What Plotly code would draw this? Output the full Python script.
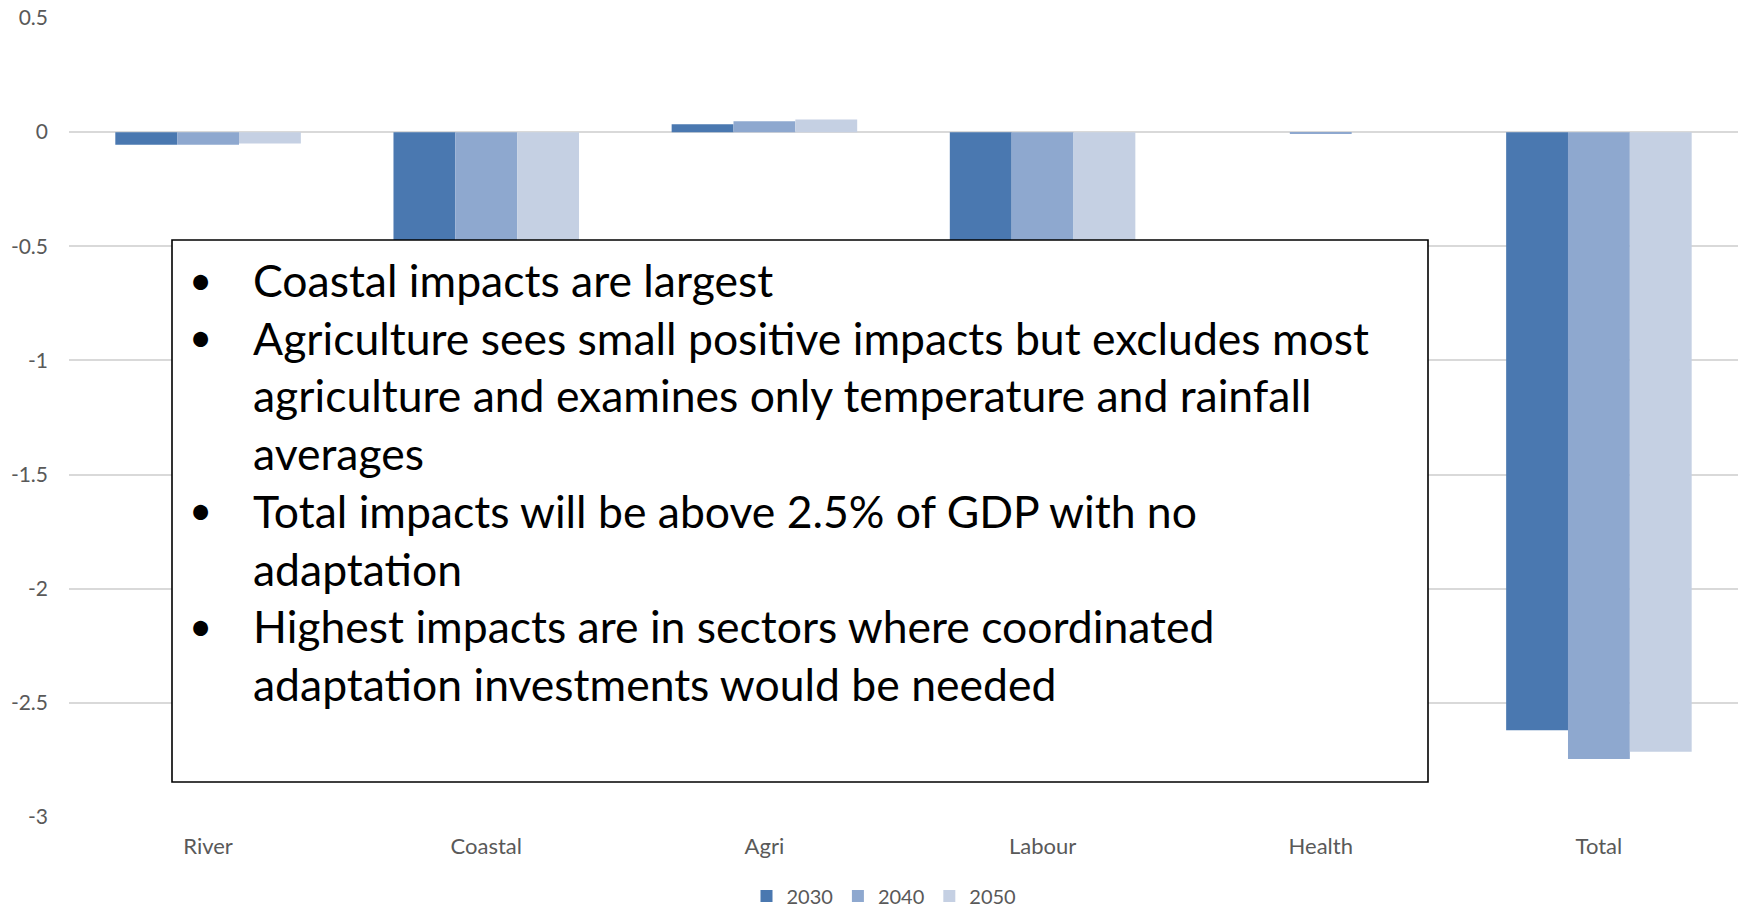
import plotly.graph_objects as go

# Sector impacts (% of GDP) by year
sectors = ["River", "Coastal", "Agri", "Labour", "Health", "Total"]
years = ["2030", "2040", "2050"]
impact_2030 = [-0.055, -1.60, 0.035, -1.00, 0.0, -2.62]
impact_2040 = [-0.055, -1.68, 0.048, -1.06, -0.006, -2.746]
impact_2050 = [-0.050, -1.65, 0.055, -1.08, 0.0, -2.714]
colors = ["#4a78b0", "#8ea8cf", "#c5d0e3"]

y_ticks = [0.5, 0, -0.5, -1, -1.5, -2, -2.5, -3]
y_tick_text = ["0.5", "0", "-0.5", "-1", "-1.5", "-2", "-2.5", "-3"]

bullets = [
    (True, "Coastal impacts are largest"),
    (True, "Agriculture sees small positive impacts but excludes most"),
    (False, "agriculture and examines only temperature and rainfall"),
    (False, "averages"),
    (True, "Total impacts will be above 2.5% of GDP with no"),
    (False, "adaptation"),
    (True, "Highest impacts are in sectors where coordinated"),
    (False, "adaptation investments would be needed"),
]

W, H = 1740, 911
ML, MR, MT, MB = 69, 2, 18, 94
PW, PH = W - ML - MR, H - MT - MB


def px(x):
    return (x - ML) / PW


def py(y):
    return 1 - (y - MT) / PH


fig = go.Figure()
for name, vals, col in zip(years, [impact_2030, impact_2040, impact_2050], colors):
    fig.add_trace(go.Bar(x=sectors, y=vals, name=name, marker=dict(color=col, line=dict(width=0))))

# Overlaid commentary box
fig.add_shape(type="rect", xref="paper", yref="paper",
              x0=px(172), x1=px(1428), y0=py(782), y1=py(240),
              fillcolor="white", line=dict(color="black", width=1.6), layer="above")

line_y0, line_step = 279.6, 57.7
for i, (has_bullet, txt) in enumerate(bullets):
    yy = py(line_y0 + i * line_step)
    if has_bullet:
        fig.add_annotation(xref="paper", yref="paper", x=px(200), y=yy, text="•",
                           showarrow=False, xanchor="center", yanchor="middle",
                           font=dict(family="Lato", size=40, color="black"))
    fig.add_annotation(xref="paper", yref="paper", x=px(251), y=yy, text=txt,
                       showarrow=False, xanchor="left", yanchor="middle",
                       font=dict(family="Lato", size=44.5, color="black"))

fig.update_layout(
    width=W, height=H,
    margin=dict(l=ML, r=MR, t=MT, b=MB, autoexpand=False),
    paper_bgcolor="white", plot_bgcolor="white",
    barmode="group", bargap=0.333, bargroupgap=0,
    font=dict(family="Lato", size=21, color="#595959"),
    showlegend=True,
    legend=dict(orientation="h", x=px(884), xanchor="center", y=py(896), yanchor="middle",
                font=dict(size=20, color="#595959"), itemwidth=30, traceorder="normal"),
)
fig.update_xaxes(showgrid=False, showline=False, ticks="", tickfont=dict(size=22, color="#595959"),
                 ticklabelstandoff=14, automargin=False)
fig.update_yaxes(range=[-3, 0.5], tickvals=y_ticks, ticktext=y_tick_text,
                 showgrid=True, gridcolor="#d9d9d9", gridwidth=1.5,
                 zeroline=True, zerolinecolor="#d9d9d9", zerolinewidth=1.5,
                 showline=False, ticks="", tickfont=dict(size=21, color="#595959"),
                 ticklabelstandoff=20, automargin=False)

fig.write_html("out.html")
